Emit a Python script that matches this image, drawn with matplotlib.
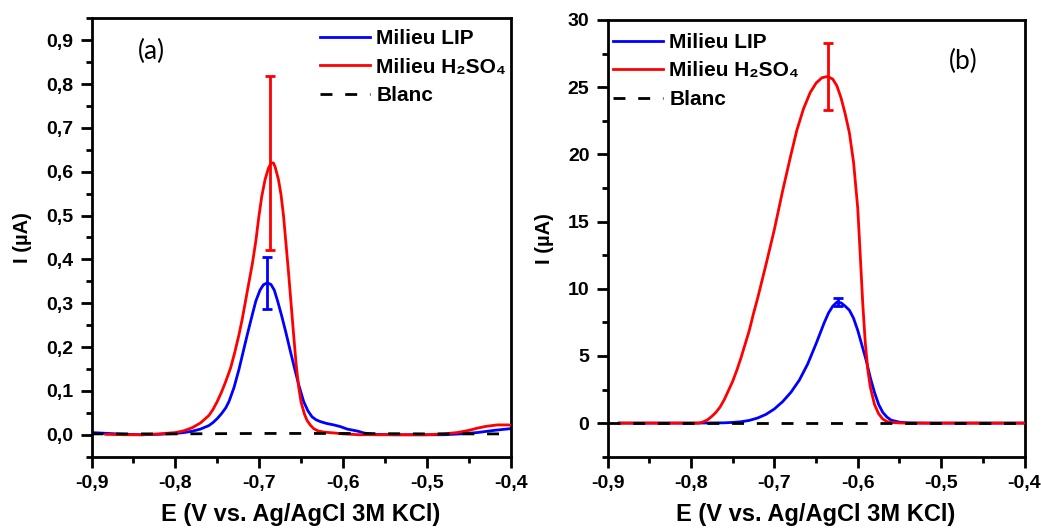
import matplotlib
matplotlib.use("Agg")
import matplotlib.pyplot as plt
from matplotlib.ticker import MultipleLocator, FuncFormatter

plt.rcParams['font.family'] = ['Liberation Sans', 'DejaVu Sans']
plt.rcParams['font.weight'] = 'bold'

# ---- panel (a) ----
a_lip_x = [-0.900, -0.890, -0.880, -0.860, -0.840, -0.820, -0.800, -0.790, -0.780, -0.770,
           -0.760, -0.755, -0.750, -0.745, -0.740, -0.736, -0.730, -0.724, -0.719, -0.714,
           -0.709, -0.704, -0.699, -0.695, -0.6905, -0.686, -0.682, -0.678, -0.673, -0.668,
           -0.663, -0.658, -0.653, -0.647, -0.642, -0.637, -0.632, -0.627, -0.620, -0.610,
           -0.603, -0.595, -0.583, -0.575, -0.564, -0.540, -0.500, -0.480, -0.460, -0.440,
           -0.420, -0.400]
a_lip_y = [0.005, 0.004, 0.003, 0.001, 0.000, 0.001, 0.003, 0.005, 0.008, 0.013,
           0.021, 0.028, 0.037, 0.048, 0.061, 0.076, 0.108, 0.150, 0.190, 0.230,
           0.268, 0.305, 0.330, 0.342, 0.3465, 0.343, 0.330, 0.305, 0.270, 0.232,
           0.192, 0.153, 0.115, 0.076, 0.055, 0.041, 0.034, 0.030, 0.026, 0.022,
           0.0185, 0.013, 0.0085, 0.004, 0.001, 0.000, 0.000, 0.000, 0.002, 0.005,
           0.010, 0.014]

a_h2so4_x = [-0.883, -0.860, -0.840, -0.820, -0.800, -0.790, -0.780, -0.770, -0.760, -0.755,
             -0.750, -0.745, -0.740, -0.734, -0.729, -0.724, -0.720, -0.7164, -0.7124, -0.708,
             -0.704, -0.7005, -0.697, -0.693, -0.689, -0.6857, -0.683, -0.681, -0.677, -0.674,
             -0.671, -0.668, -0.665, -0.662, -0.659, -0.656, -0.653, -0.650, -0.646, -0.643,
             -0.639, -0.635, -0.630, -0.623, -0.610, -0.600, -0.580, -0.540, -0.500, -0.480,
             -0.464, -0.450, -0.440, -0.430, -0.416, -0.403, -0.400]
a_h2so4_y = [0.001, 0.000, 0.000, 0.002, 0.005, 0.009, 0.016, 0.027, 0.044, 0.058,
             0.076, 0.097, 0.121, 0.153, 0.189, 0.229, 0.266, 0.304, 0.346, 0.392,
             0.442, 0.496, 0.543, 0.582, 0.608, 0.620, 0.620, 0.611, 0.582, 0.548,
             0.500, 0.435, 0.370, 0.300, 0.230, 0.162, 0.110, 0.074, 0.047, 0.033,
             0.022, 0.014, 0.009, 0.006, 0.004, 0.002, 0.000, 0.000, 0.000, 0.002,
             0.005, 0.010, 0.015, 0.019, 0.0225, 0.0225, 0.022]

a_blank_x = [-0.90, -0.80, -0.70, -0.60, -0.50, -0.40]
a_blank_y = [0.002, 0.002, 0.003, 0.003, 0.002, 0.002]

a_err_x = [-0.6905, -0.6866]
a_err_y = [0.3465, 0.620]
a_err = [0.06, 0.198]

# ---- panel (b) ----
b_lip_x = [-0.886, -0.800, -0.760, -0.750, -0.740, -0.730, -0.720, -0.710, -0.700, -0.690,
           -0.680, -0.670, -0.660, -0.650, -0.640, -0.635, -0.630, -0.625, -0.620, -0.615,
           -0.610, -0.605, -0.600, -0.595, -0.590, -0.585, -0.580, -0.575, -0.570, -0.565,
           -0.560, -0.550, -0.540, -0.520, -0.400]
b_lip_y = [0.0, 0.0, 0.02, 0.05, 0.10, 0.20, 0.38, 0.65, 1.05, 1.60,
           2.30, 3.20, 4.40, 5.90, 7.50, 8.20, 8.70, 9.00, 8.95, 8.70,
           8.40, 7.80, 6.90, 5.80, 4.70, 3.40, 2.30, 1.40, 0.80, 0.45,
           0.22, 0.07, 0.02, 0.0, 0.0]

b_h2so4_x = [-0.886, -0.790, -0.785, -0.780, -0.775, -0.770, -0.765, -0.760, -0.750, -0.745,
             -0.740, -0.730, -0.725, -0.720, -0.710, -0.705, -0.700, -0.690, -0.680, -0.673,
             -0.665, -0.657, -0.650, -0.643, -0.636, -0.630, -0.625, -0.620, -0.615, -0.610,
             -0.605, -0.600, -0.597, -0.594, -0.591, -0.588, -0.585, -0.580, -0.575, -0.570,
             -0.565, -0.560, -0.550, -0.540, -0.400]
b_h2so4_y = [0.0, 0.0, 0.10, 0.25, 0.50, 0.80, 1.20, 1.75, 3.10, 3.93,
             4.85, 6.90, 8.15, 9.30, 11.8, 13.1, 14.4, 17.3, 20.0, 21.8,
             23.4, 24.6, 25.3, 25.7, 25.8, 25.6, 25.1, 24.2, 23.0, 21.6,
             19.4, 16.0, 12.5, 8.9, 6.0, 4.0, 2.7, 1.4, 0.7, 0.3,
             0.12, 0.05, 0.01, 0.0, 0.0]

b_blank_x = [-0.90, -0.40]
b_blank_y = [0.0, 0.0]

b_err_x = [-0.6233, -0.6353]
b_err_y = [9.02, 25.78]
b_err = [0.3, 2.5]

labels = ['Milieu LIP', 'Milieu H₂SO₄', 'Blanc']
colors = ['#0000ff', '#ff0000', 'black']

fig = plt.figure(figsize=(10.41, 5.29), dpi=100)
ax1 = fig.add_axes([0.0879, 0.1367, 0.4027, 0.8287])
ax2 = fig.add_axes([0.5836, 0.1367, 0.4006, 0.8255])


def draw(ax, lip, h2so4, blank, errx, erry, err):
    ax.plot(lip[0], lip[1], color=colors[0], lw=2.0, label=labels[0], zorder=2)
    ax.plot(h2so4[0], h2so4[1], color=colors[1], lw=2.0, label=labels[1], zorder=3)
    ax.plot(blank[0], blank[1], color=colors[2], lw=2.0, dashes=(4.3, 4.6),
            label=labels[2], zorder=4)
    ax.errorbar(errx[0], erry[0], yerr=err[0], fmt='none', ecolor=colors[0],
                elinewidth=2, capsize=3.5, capthick=2, zorder=2)
    ax.errorbar(errx[1], erry[1], yerr=err[1], fmt='none', ecolor=colors[1],
                elinewidth=2, capsize=3.5, capthick=2, zorder=3)
    for s in ax.spines.values():
        s.set_linewidth(2.0)
    ax.tick_params(which='major', direction='out', length=8, width=2, labelsize=14, pad=5)
    ax.tick_params(which='minor', direction='out', length=4, width=2)
    ax.set_xlim(-0.9, -0.4)
    ax.xaxis.set_major_locator(MultipleLocator(0.1))
    ax.xaxis.set_minor_locator(MultipleLocator(0.05))
    ax.xaxis.set_major_formatter(FuncFormatter(
        lambda v, p: f"{0.0 if abs(v) < 1e-9 else v:.1f}".replace('.', ',')))
    ax.set_xlabel('E (V vs. Ag/AgCl 3M KCl)', fontsize=17, fontweight='bold', labelpad=8)
    ax.set_ylabel('I (µA)', fontsize=14.5, fontweight='bold', labelpad=10)


draw(ax1, (a_lip_x, a_lip_y), (a_h2so4_x, a_h2so4_y), (a_blank_x, a_blank_y),
     a_err_x, a_err_y, a_err)
ax1.set_ylim(-0.05, 0.95)
ax1.yaxis.set_major_locator(MultipleLocator(0.1))
ax1.yaxis.set_minor_locator(MultipleLocator(0.05))
ax1.yaxis.set_major_formatter(FuncFormatter(
    lambda v, p: f"{0.0 if abs(v) < 1e-9 else v:.1f}".replace('.', ',')))
ax1.text(0.144, 0.925, '(a)', transform=ax1.transAxes, ha='center', va='center',
         fontsize=19, fontweight='normal', family=['Lato', 'DejaVu Sans'])
ax1.legend(loc='upper left', bbox_to_anchor=(0.545, 0.975), frameon=False,
           fontsize=15, handlelength=2.4, handletextpad=0.3, labelspacing=0.45,
           borderpad=0, borderaxespad=0)

draw(ax2, (b_lip_x, b_lip_y), (b_h2so4_x, b_h2so4_y), (b_blank_x, b_blank_y),
     b_err_x, b_err_y, b_err)
ax2.set_ylim(-2.5, 30)
ax2.yaxis.set_major_locator(MultipleLocator(5))
ax2.yaxis.set_minor_locator(MultipleLocator(2.5))
ax2.yaxis.set_major_formatter(FuncFormatter(lambda v, p: f"{v:.0f}"))
ax2.text(0.853, 0.905, '(b)', transform=ax2.transAxes, ha='center', va='center',
         fontsize=19, fontweight='normal', family=['Lato', 'DejaVu Sans'])
ax2.legend(loc='upper left', bbox_to_anchor=(0.013, 0.97), frameon=False,
           fontsize=15, handlelength=2.4, handletextpad=0.3, labelspacing=0.45,
           borderpad=0, borderaxespad=0)

fig.savefig('out.png', dpi=100)
